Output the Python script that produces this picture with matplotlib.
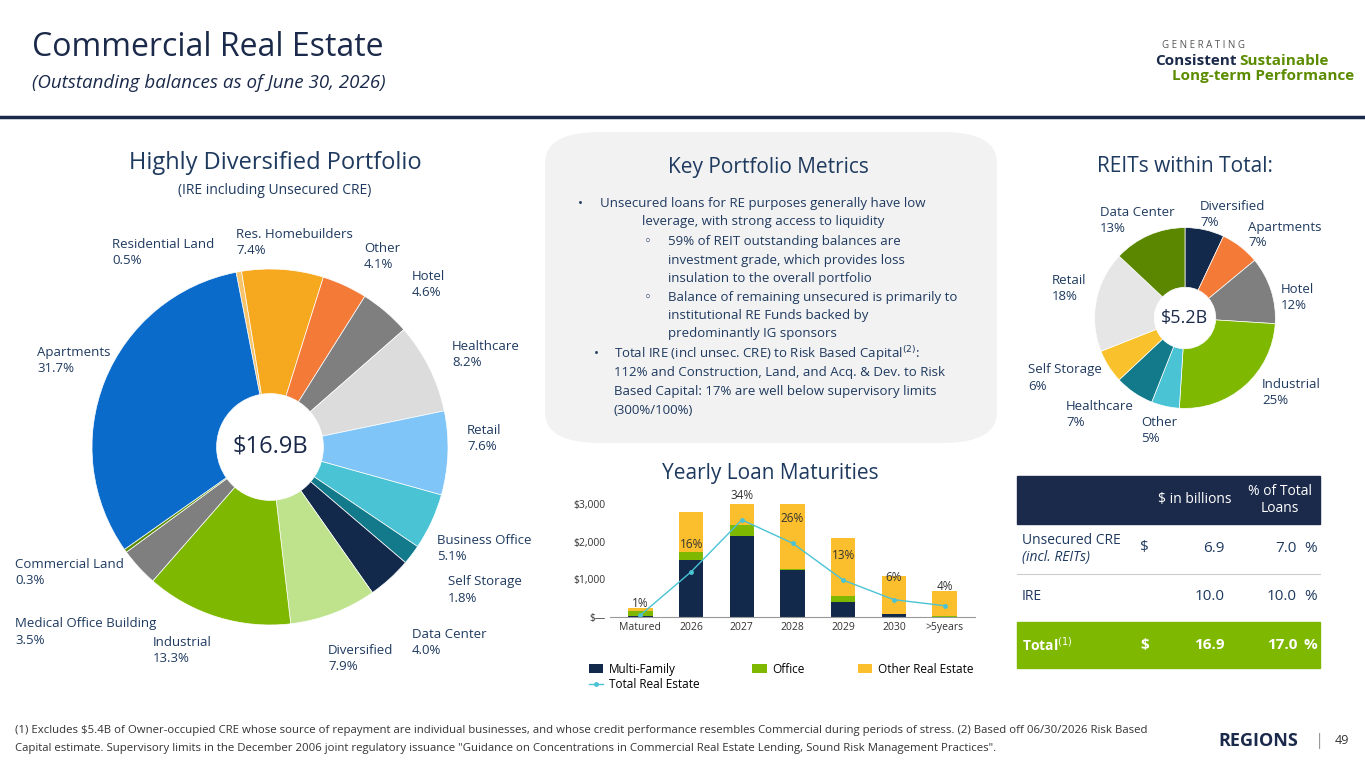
import matplotlib
matplotlib.use("Agg")
import matplotlib.pyplot as plt
from matplotlib.patches import FancyBboxPatch, Rectangle
import numpy as np

plt.rcParams['font.family'] = ['Open Sans', 'DejaVu Sans']

main_labels = ["Residential Land", "Res. Homebuilders", "Other", "Hotel", "Healthcare", "Retail",
               "Business Office", "Self Storage", "Data Center", "Diversified", "Industrial",
               "Medical Office Building", "Commercial Land", "Apartments"]
main_values = [0.5, 7.4, 4.1, 4.6, 8.2, 7.6, 5.1, 1.8, 4.0, 7.9, 13.3, 3.5, 0.3, 31.7]
main_colors = ["#f7c46c", "#f6a81e", "#f47a38", "#7f7f7f", "#dcdcdc", "#80c5f8", "#4ac3d4",
               "#127a8a", "#13294b", "#bfe38c", "#7fb800", "#7f7f7f", "#5b8c00", "#0b6bcb"]

reit_labels = ["Diversified", "Apartments", "Hotel", "Industrial", "Other", "Healthcare",
               "Self Storage", "Retail", "Data Center"]
reit_values = [7, 7, 12, 25, 5, 7, 6, 18, 13]
reit_colors = ["#13294b", "#f47a38", "#7f7f7f", "#7fb800", "#4ac3d4", "#127a8a",
               "#f9c22c", "#e6e6e6", "#5b8700"]

years = ["Matured", "2026", "2027", "2028", "2029", "2030", ">5years"]
multi_family = [30, 1520, 2150, 1250, 400, 80, 10]
office = [130, 200, 300, 30, 150, 0, 10]
other_re = [80, 1070, 550, 1720, 1550, 1020, 680]
total_re = [50, 1200, 2580, 1960, 980, 460, 300]
pct_labels = ["1%", "16%", "34%", "26%", "13%", "6%", "4%"]

NAVY = "#1b2a4a"
TXT = "#1f3a5f"
W, H = 1365, 768
fig = plt.figure(figsize=(13.65, 7.68), dpi=100)
fig.patch.set_facecolor("white")

def fx(x): return x / W
def fy(y): return 1 - y / H
def T(x, y, s, **kw):
    fig.text(fx(x), fy(y), s, **kw)

# Header
T(32, 48, "Commercial Real Estate", fontsize=23, color=NAVY, va="center")
T(32, 83, "(Outstanding balances as of June 30, 2026)", fontsize=13.5, color=NAVY, style="italic", va="center")
fig.add_artist(plt.Line2D([fx(0), fx(1365)], [fy(117), fy(117)], color=NAVY, lw=2.5))
T(1162, 45, "G E N E R A T I N G", fontsize=7, color="#555555", va="center")
T(1155, 61, "Consistent", fontsize=11, color=NAVY, weight="bold", va="center")
T(1239, 61, "Sustainable", fontsize=11, color="#5b8c00", weight="bold", va="center")
T(1172, 76, "Long-term Performance", fontsize=11, color="#5b8c00", weight="bold", va="center")

# Main pie
T(275, 163, "Highly Diversified Portfolio", fontsize=17, color=TXT, ha="center", va="center")
T(275, 190, "(IRE including Unsecured CRE)", fontsize=10, color=TXT, ha="center", va="center")
S = 445
ax1 = fig.add_axes([fx(270 - S / 2), fy(447 + S / 2), fx(S), S / H])
ax1.pie(main_values, colors=main_colors, startangle=101, counterclock=False,
        wedgeprops=dict(width=0.7, edgecolor="white", linewidth=0.5))
ax1.set_aspect("equal")
ax1.text(0, 0, "$16.9B", ha="center", va="center", fontsize=17, color=NAVY)

lbls = [("Residential Land\n0.5%", 112, 252), ("Res. Homebuilders\n7.4%", 236, 243), ("Other\n4.1%", 364, 256),
        ("Hotel\n4.6%", 412, 284), ("Healthcare\n8.2%", 452, 355), ("Retail\n7.6%", 467, 438),
        ("Business Office\n5.1%", 437, 548), ("Self Storage\n1.8%", 448, 590), ("Data Center\n4.0%", 412, 642),
        ("Diversified\n7.9%", 328, 659), ("Industrial\n13.3%", 153, 650), ("Medical Office Building\n3.5%", 15, 632),
        ("Commercial Land\n0.3%", 15, 573), ("Apartments\n31.7%", 37, 361)]
for s, x, y in lbls:
    T(x, y, s, fontsize=9.5, color=TXT, va="center", linespacing=1.3)

# Key metrics box
box = FancyBboxPatch((fx(545), fy(443)), fx(452), 311 / H, boxstyle="round,pad=0,rounding_size=0.04",
                     transform=fig.transFigure, facecolor="#f2f2f2", edgecolor="none")
fig.add_artist(box)
T(768, 167, "Key Portfolio Metrics", fontsize=15, color=TXT, ha="center", va="center")
lines = [
    (578, 203, "•"), (600, 203, "Unsecured loans for RE purposes generally have low"),
    (642, 222, "leverage, with strong access to liquidity"),
    (644, 242, "◦"), (668, 242, "59% of REIT outstanding balances are"),
    (668, 260, "investment grade, which provides loss"),
    (668, 278, "insulation to the overall portfolio"),
    (644, 298, "◦"), (668, 298, "Balance of remaining unsecured is primarily to"),
    (668, 316, "institutional RE Funds backed by"),
    (668, 334, "predominantly IG sponsors"),
    (594, 354, "•"), (614, 354, r"Total IRE (incl unsec. CRE) to Risk Based Capital$^{(2)}$:"),
    (614, 373, "112% and Construction, Land, and Acq. & Dev. to Risk"),
    (614, 392, "Based Capital: 17% are well below supervisory limits"),
    (614, 411, "(300%/100%)"),
]
for x, y, s in lines:
    T(x, y, s, fontsize=9.5, color=TXT, va="center")

# REIT pie
T(1185, 167, "REITs within Total:", fontsize=15, color=TXT, ha="center", va="center")
S2 = 226
ax2 = fig.add_axes([fx(1185 - S2 / 2), fy(318 + S2 / 2), fx(S2), S2 / H])
ax2.pie(reit_values, colors=reit_colors, startangle=90, counterclock=False,
        wedgeprops=dict(width=0.66, edgecolor="white", linewidth=0.5))
ax2.set_aspect("equal")
ax2.text(0, 0, "$5.2B", ha="center", va="center", fontsize=13, color=NAVY)
rl = [("Data Center\n13%", 1100, 220), ("Diversified\n7%", 1200, 215), ("Apartments\n7%", 1248, 235),
      ("Hotel\n12%", 1281, 298), ("Industrial\n25%", 1262, 393), ("Other\n5%", 1141, 430),
      ("Healthcare\n7%", 1066, 415), ("Self Storage\n6%", 1028, 378), ("Retail\n18%", 1052, 288)]
for s, x, y in rl:
    T(x, y, s, fontsize=9.5, color=TXT, va="center", linespacing=1.3)

# Bar chart
T(770, 473, "Yearly Loan Maturities", fontsize=15, color=TXT, ha="center", va="center")
ax3 = fig.add_axes([fx(610), fy(617), fx(365), 113 / H])
xs = np.arange(len(years))
b1 = ax3.bar(xs, multi_family, width=0.48, color="#13294b")
b2 = ax3.bar(xs, office, width=0.48, bottom=multi_family, color="#7fb800")
bot = [a + b for a, b in zip(multi_family, office)]
b3 = ax3.bar(xs, other_re, width=0.48, bottom=bot, color="#fbbf2d")
l1, = ax3.plot(xs, total_re, color="#4ac3d4", marker="o", ms=2.5, lw=1)
lab_y = [180, 1750, 3050, 2450, 1450, 880, 640]
for i, p in enumerate(pct_labels):
    ax3.text(i, lab_y[i], p, ha="center", va="bottom", fontsize=8.5, color="#333333")
ax3.set_ylim(0, 3000)
ax3.set_xlim(-0.6, 6.6)
ax3.set_yticks([0, 1000, 2000, 3000])
ax3.set_yticklabels(["$—", "$1,000", "$2,000", "$3,000"])
ax3.set_xticks(xs)
ax3.set_xticklabels(years)
ax3.tick_params(labelsize=7.5, colors="#333333", length=0)
for s in ["top", "right", "left"]:
    ax3.spines[s].set_visible(False)
ax3.spines["bottom"].set_color("#999999")

blank = Rectangle((0, 0), 1, 1, fill=False, edgecolor="none", visible=False)
fig.legend(handles=[b1, l1, b2, blank, b3, blank],
           labels=["Multi-Family", "Total Real Estate", "Office", "", "Other Real Estate", ""],
           loc="upper left", bbox_to_anchor=(fx(578), fy(652)), ncol=3, frameon=False, fontsize=8.5,
           handlelength=1.2, columnspacing=4.5, labelspacing=0.2, handletextpad=0.5)

# Table
fig.add_artist(Rectangle((fx(1017), fy(524)), fx(303), 48 / H, transform=fig.transFigure, color=NAVY))
T(1195, 500, "$ in billions", fontsize=10, color="white", ha="center", va="center")
T(1280, 500, "% of Total\nLoans", fontsize=10, color="white", ha="center", va="center", linespacing=1.1)
T(1022, 540, "Unsecured CRE", fontsize=10, color=TXT, va="center")
T(1022, 557, "(incl. REITs)", fontsize=10, color=TXT, va="center", style="italic")
T(1140, 548, "$", fontsize=11, color=TXT, va="center")
T(1225, 548, "6.9", fontsize=11, color=TXT, va="center", ha="right")
T(1297, 548, "7.0", fontsize=11, color=TXT, va="center", ha="right")
T(1304, 548, "%", fontsize=11, color=TXT, va="center")
fig.add_artist(plt.Line2D([fx(1017), fx(1320)], [fy(574), fy(574)], color="#cccccc", lw=0.8))
T(1022, 596, "IRE", fontsize=10, color=TXT, va="center")
T(1225, 596, "10.0", fontsize=11, color=TXT, va="center", ha="right")
T(1297, 596, "10.0", fontsize=11, color=TXT, va="center", ha="right")
T(1304, 596, "%", fontsize=11, color=TXT, va="center")
fig.add_artist(Rectangle((fx(1017), fy(668)), fx(303), 46 / H, transform=fig.transFigure, color="#7fb800"))
T(1022, 645, r"Total$^{(1)}$", fontsize=10, color="white", va="center", weight="bold")
T(1140, 645, "$", fontsize=11, color="white", va="center", weight="bold")
T(1225, 645, "16.9", fontsize=11, color="white", va="center", ha="right", weight="bold")
T(1297, 645, "17.0", fontsize=11, color="white", va="center", ha="right", weight="bold")
T(1304, 645, "%", fontsize=11, color="white", va="center", weight="bold")

# Footnote
T(15, 730, "(1) Excludes $5.4B of Owner-occupied CRE whose source of repayment are individual businesses, and whose credit performance resembles Commercial during periods of stress. (2) Based off 06/30/2026 Risk Based",
  fontsize=8.2, color="#333333", va="center")
T(15, 748, "Capital estimate. Supervisory limits in the December 2006 joint regulatory issuance \"Guidance on Concentrations in Commercial Real Estate Lending, Sound Risk Management Practices\".",
  fontsize=8.2, color="#333333", va="center")
T(1218, 741, "REGIONS", fontsize=13, color=NAVY, va="center", weight="bold")
T(1315, 741, "|", fontsize=12, color="#999999", va="center")
T(1335, 741, "49", fontsize=9, color="#333333", va="center")

fig.savefig("out.png", dpi=100)
